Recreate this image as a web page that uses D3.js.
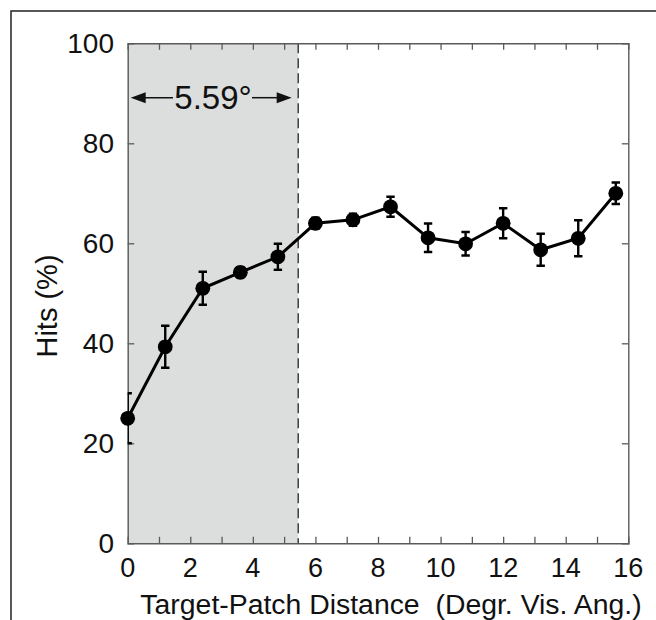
<!DOCTYPE html>
<html>
<head>
<meta charset="utf-8">
<script src="https://cdn.jsdelivr.net/npm/d3@7"></script>
<style>
  html, body { margin: 0; padding: 0; background: #fff; }
  svg { display: block; }
  text { font-family: "Liberation Sans", Arial, sans-serif; fill: #111; white-space: pre; }
</style>
</head>
<body>
<svg id="chart" width="656" height="620"></svg>
<script>
// ---- data ----
const distances = [0, 1.2, 2.4, 3.6, 4.8, 6, 7.2, 8.4, 9.6, 10.8, 12, 13.2, 14.4, 15.6];
const hits      = [25.0, 39.3, 51.0, 54.2, 57.3, 64.0, 64.7, 67.3, 61.1, 59.9, 64.0, 58.7, 61.0, 70.0];
const errors    = [5.0, 4.2, 3.3, 1.0, 2.6, 1.1, 1.2, 2.0, 2.85, 2.35, 3.0, 3.2, 3.6, 2.15];
const xTickLabels = [0, 2, 4, 6, 8, 10, 12, 14, 16];
const xMinorTicks = d3.range(0, 17, 1);
const yTickLabels = [0, 20, 40, 60, 80, 100];
const shadedLimit = 5.45;
const shadedLabel = "5.59°";
const xTitle = "Target-Patch Distance  (Degr. Vis. Ang.)";
const yTitle = "Hits (%)";

// ---- layout ----
const svg = d3.select("#chart");
const L = 127.7, R = 628.3, T = 43.3, B = 543.3;
const x = d3.scaleLinear().domain([0, 16]).range([L, R]);
const y = d3.scaleLinear().domain([0, 100]).range([B, T]);
const axisColor = "#5a5a5a";

// outer frame
svg.append("rect").attr("x", 11).attr("y", 11).attr("width", 700).attr("height", 700)
  .attr("fill", "none").attr("stroke", "#222").attr("stroke-width", 1.5);

// shaded region
svg.append("rect")
  .attr("x", x(0)).attr("y", y(100))
  .attr("width", x(shadedLimit) - x(0)).attr("height", y(0) - y(100))
  .attr("fill", "#dcdddd");

// dashed line
svg.append("line")
  .attr("x1", x(shadedLimit)).attr("x2", x(shadedLimit))
  .attr("y1", y(100)).attr("y2", y(0))
  .attr("stroke", "#333").attr("stroke-width", 1.4).attr("stroke-dasharray", "10,5");

// axes (ticks inward, mirrored)
const tickLen = 6.5;
const fmtNone = () => "";
const gB = svg.append("g").attr("transform", `translate(0,${B})`)
  .call(d3.axisTop(x).tickValues(xMinorTicks).tickSize(tickLen).tickFormat(fmtNone));
const gT = svg.append("g").attr("transform", `translate(0,${T})`)
  .call(d3.axisBottom(x).tickValues(xMinorTicks).tickSize(tickLen).tickFormat(fmtNone));
const gL = svg.append("g").attr("transform", `translate(${L},0)`)
  .call(d3.axisRight(y).tickValues(yTickLabels).tickSize(tickLen).tickFormat(fmtNone));
const gR = svg.append("g").attr("transform", `translate(${R},0)`)
  .call(d3.axisLeft(y).tickValues(yTickLabels).tickSize(tickLen).tickFormat(fmtNone));
[gB, gT, gL, gR].forEach(g => {
  g.selectAll("path.domain").attr("stroke", axisColor).attr("stroke-width", 1.4);
  g.selectAll(".tick line").attr("stroke", axisColor).attr("stroke-width", 1.3);
});
gB.selectAll(".tick").filter(d => d === 0 || d === 16).remove();
gT.selectAll(".tick").filter(d => d === 0 || d === 16).remove();
gL.selectAll(".tick").filter(d => d === 0 || d === 100).remove();
gR.selectAll(".tick").filter(d => d === 0 || d === 100).remove();

// tick labels
svg.append("g").selectAll("text").data(xTickLabels).join("text")
  .attr("x", d => x(d)).attr("y", 577)
  .attr("text-anchor", "middle").attr("font-size", 27)
  .text(d => d);
svg.append("g").selectAll("text").data(yTickLabels).join("text")
  .attr("x", 114).attr("y", d => y(d) + 10)
  .attr("text-anchor", "end").attr("font-size", 28)
  .text(d => d);

// titles
svg.append("text").attr("x", 391).attr("y", 614)
  .attr("text-anchor", "middle").attr("font-size", 28.4).text(xTitle);
svg.append("text").attr("transform", `translate(57,${306}) rotate(-90)`)
  .attr("text-anchor", "middle").attr("font-size", 29).text(yTitle);

// annotation arrow
const arrowY = 97.7;
const textX = 213;
svg.append("text").attr("x", textX).attr("y", 109)
  .attr("text-anchor", "middle").attr("font-size", 33).text(shadedLabel);
const ax0 = x(0) + 3, ax1 = x(shadedLimit) - 6.5;
svg.append("line").attr("x1", ax0 + 10).attr("x2", 173).attr("y1", arrowY).attr("y2", arrowY)
  .attr("stroke", "#111").attr("stroke-width", 1.5);
svg.append("line").attr("x1", 252).attr("x2", ax1 - 10).attr("y1", arrowY).attr("y2", arrowY)
  .attr("stroke", "#111").attr("stroke-width", 1.5);
svg.append("path").attr("d", `M${ax0},${arrowY} L${ax0 + 15},${arrowY - 5.5} L${ax0 + 15},${arrowY + 5.5} Z`).attr("fill", "#111");
svg.append("path").attr("d", `M${ax1},${arrowY} L${ax1 - 15},${arrowY - 5.5} L${ax1 - 15},${arrowY + 5.5} Z`).attr("fill", "#111");

// clip for error bars
svg.append("clipPath").attr("id", "plotclip").append("rect")
  .attr("x", L).attr("y", T).attr("width", R - L).attr("height", B - T);

const data = distances.map((d, i) => ({ x: d, y: hits[i], e: errors[i] }));

const eb = svg.append("g").attr("clip-path", "url(#plotclip)")
  .attr("stroke", "#000").attr("stroke-width", 2.4);
const capW = 4.2;
data.forEach(d => {
  const cx = x(d.x), y1 = y(d.y + d.e), y2 = y(d.y - d.e);
  eb.append("line").attr("x1", cx).attr("x2", cx).attr("y1", y1).attr("y2", y2);
  eb.append("line").attr("x1", cx - capW).attr("x2", cx + capW).attr("y1", y1).attr("y2", y1);
  eb.append("line").attr("x1", cx - capW).attr("x2", cx + capW).attr("y1", y2).attr("y2", y2);
});

// line
svg.append("path").datum(data)
  .attr("d", d3.line().x(d => x(d.x)).y(d => y(d.y)))
  .attr("fill", "none").attr("stroke", "#000").attr("stroke-width", 3);

// markers
svg.append("g").selectAll("circle").data(data).join("circle")
  .attr("cx", d => x(d.x)).attr("cy", d => y(d.y)).attr("r", 7.4)
  .attr("fill", "#000");
</script>
</body>
</html>
